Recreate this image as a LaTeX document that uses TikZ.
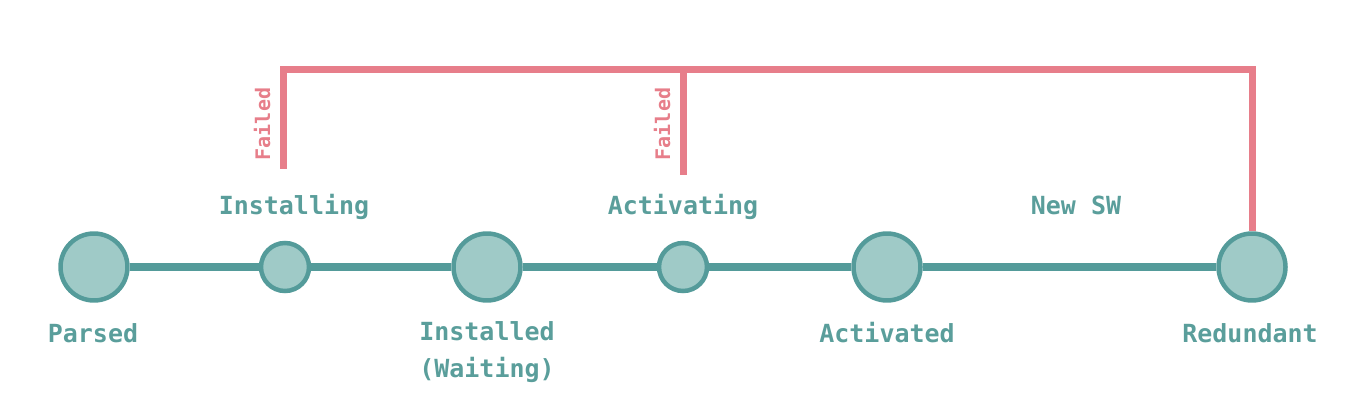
\documentclass[tikz,border=0pt]{standalone}
\usepackage{fontspec}
\setmonofont{DejaVu Sans Mono}
\usetikzlibrary{positioning,calc}
\usepackage{xcolor}
\definecolor{tealline}{HTML}{549B9A}
\definecolor{tealfill}{HTML}{9FCAC7}
\definecolor{tealtext}{HTML}{5A9E9B}
\definecolor{failred}{HTML}{E77E8A}

\begin{document}
\begin{tikzpicture}[x=0.02cm, y=-0.02cm,
    state/.style={circle, draw=tealline, fill=tealfill, line width=0.09cm, minimum size=1.34cm, inner sep=0pt},
    phase/.style={state, minimum size=0.96cm},
    label/.style={text=tealtext, font=\ttfamily\bfseries\fontsize{14.2}{21.5}\selectfont, align=center, inner sep=0pt},
    fail/.style={text=failred, font=\ttfamily\bfseries\fontsize{11.4}{13}\selectfont, rotate=90, inner sep=0pt}]
    \useasboundingbox (0,0) rectangle (1364,408);
    % states on the timeline
    \node[state] (parsed) at (94,267) {};
    \node[phase] (installing) at (285,267) {};
    \node[state] (installed) at (487,267) {};
    \node[phase] (activating) at (683,267) {};
    \node[state] (activated) at (887,267) {};
    \node[state] (redundant) at (1252,267) {};
    \draw[tealline, line width=0.16cm] (parsed) -- (installing) -- (installed) -- (activating) -- (activated) -- (redundant);
    % labels
    \node[label, anchor=base] (lparsed) at (93,342) {Parsed};
    \node[label, anchor=base] (linstalling) at (294,215) {Installing};
    \node[label] (linstalled) at (487,352) {Installed\\(Waiting)};
    \node[label, anchor=base] (lactivating) at (683,215) {Activating};
    \node[label, anchor=base] (lactivated) at (887,342) {Activated};
    \node[label, anchor=base] (lnewsw) at (1076,215) {New SW};
    \node[label, anchor=base] (lredundant) at (1250,342) {Redundant};
    % failure paths
    \coordinate (f1) at (283,169);
    \coordinate (f2) at (683,175);
    \coordinate (top) at (683,71);
    \draw[failred, line width=0.14cm] (f1) |- ($(redundant.north)+(0,-162)$) -- (redundant.north);
    \draw[failred, line width=0.14cm] (f2) -- (top);
    \node[fail] (fail1) at (262,124) {Failed};
    \node[fail] (fail2) at (662,124) {Failed};
\end{tikzpicture}
\end{document}
